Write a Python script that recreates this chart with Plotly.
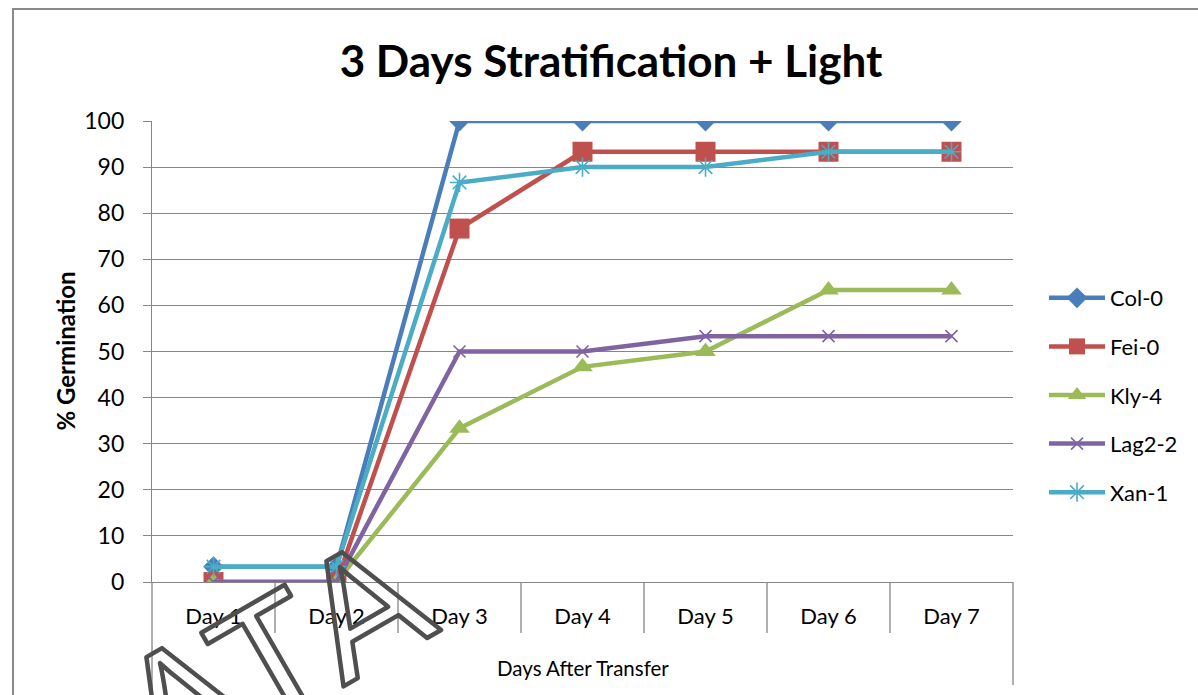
import plotly.graph_objects as go

days = ["Day 1", "Day 2", "Day 3", "Day 4", "Day 5", "Day 6", "Day 7"]
col0 = [3.33, 3.33, 100, 100, 100, 100, 100]
fei0 = [0, 0, 76.67, 93.33, 93.33, 93.33, 93.33]
kly4 = [0, 0, 33.33, 46.67, 50, 63.33, 63.33]
lag22 = [0, 0, 50, 50, 53.33, 53.33, 53.33]
xan1 = [3.33, 3.33, 86.67, 90, 90, 93.33, 93.33]
y_ticks = list(range(0, 101, 10))

W, H = 1198, 695
L, R, T, B = 152, 185, 121, 113
PW, PH = W - L - R, H - T - B

def px(X):
    return (X - L) / PW

def py(Y):
    return (H - B - Y) / PH

FONT = "Lato"
GRID = "#868686"

series = [
    ("Col-0", col0, "#4A7EBB", dict(symbol="diamond", size=16)),
    ("Fei-0", fei0, "#C0504D", dict(symbol="square", size=20)),
    ("Kly-4", kly4, "#9BBB59", dict(symbol="triangle-up", size=18)),
    ("Lag2-2", lag22, "#8064A2", dict(symbol="x-thin-open", size=12, line=dict(width=1.6, color="#8064A2"))),
    ("Xan-1", xan1, "#4BACC6", dict(symbol="asterisk-open", size=16, line=dict(width=1.6, color="#4BACC6"))),
]

fig = go.Figure()
for name, vals, color, mk in series:
    fig.add_trace(go.Scatter(
        x=days, y=vals, name=name, mode="lines+markers",
        line=dict(color=color, width=4.5),
        marker=dict(color=color, **mk),
        legendgroup=name,
    ))

shapes = []
# chart frame
shapes.append(dict(type="rect", xref="paper", yref="paper",
                   x0=px(13), x1=px(1220), y0=py(9), y1=py(730),
                   line=dict(color="#8a8a8a", width=2), layer="below"))
n = len(days)
for i in range(1, n):
    shapes.append(dict(type="line", xref="paper", yref="paper",
                       x0=i / n, x1=i / n, y0=0, y1=py(633),
                       line=dict(color=GRID, width=1.3)))
shapes.append(dict(type="line", xref="paper", yref="paper",
                   x0=0, x1=0, y0=0, y1=py(700), line=dict(color=GRID, width=1.3)))
shapes.append(dict(type="line", xref="paper", yref="paper",
                   x0=1, x1=1, y0=0, y1=py(685), line=dict(color=GRID, width=1.3)))

annotations = [
    dict(text="<b>% Germination</b>", xref="paper", yref="paper", x=px(65), y=0.5,
         xanchor="center", yanchor="middle",
         textangle=-90, showarrow=False, font=dict(family=FONT, size=24, color="black")),
    dict(text="Days After Transfer", xref="paper", yref="paper", x=0.5, y=py(668),
         xanchor="center", yanchor="middle",
         showarrow=False, font=dict(family=FONT, size=20.5, color="black")),
]
# watermark letters
for ch, X, Y in [("A", 183, 703), ("T", 272, 659), ("A", 363, 607)]:
    annotations.append(dict(text=ch, xref="paper", yref="paper", x=px(X), y=py(Y),
                            xanchor="center", yanchor="middle", textangle=-30,
                            showarrow=False,
                            font=dict(family="Liberation Sans", size=170, color="#505050")))

fig.update_layout(
    width=W, height=H,
    margin=dict(l=L, r=R, t=T, b=B, autoexpand=False),
    paper_bgcolor="white", plot_bgcolor="white",
    title=dict(text="<b>3 Days Stratification + Light</b>", xref="container", x=611 / W,
               xanchor="center", yref="container", y=(H - 62) / H, yanchor="middle",
               font=dict(family=FONT, size=44, color="black")),
    showlegend=True,
    legend=dict(x=px(1044), y=py(395), xanchor="left", yanchor="middle",
                font=dict(family=FONT, size=22, color="black"), itemwidth=56,
                tracegroupgap=17, traceorder="grouped", bgcolor="rgba(0,0,0,0)"),
    xaxis=dict(type="category", showgrid=False, showline=True, linecolor=GRID, linewidth=1.3,
               ticks="outside", ticklen=14, tickcolor="rgba(0,0,0,0)",
               tickfont=dict(family=FONT, size=22, color="black"),
               range=[-0.5, n - 0.5], fixedrange=True),
    yaxis=dict(range=[0, 100], tickvals=y_ticks, showgrid=True, gridcolor=GRID, gridwidth=1.3,
               showline=True, linecolor=GRID, linewidth=1.3, zeroline=False,
               ticks="outside", ticklen=8, tickcolor=GRID, tickwidth=1.3,
               ticklabelstandoff=14,
               tickfont=dict(family=FONT, size=23, color="black")),
    shapes=shapes,
    annotations=annotations,
)

post = """
document.body.style.margin = '0';
document.body.style.overflow = 'hidden';
var gd = document.getElementById('{plot_id}');
gd.querySelectorAll('.annotation-text').forEach(function(t){
  if (t.textContent.length === 1) {
    t.style.fill = 'none';
    t.style.stroke = '#4f4f4f';
    t.style.strokeWidth = '4.5px';
    t.style.strokeLinejoin = 'round';
  }
});
"""
fig.write_html("out.html", post_script=post, config={"displayModeBar": False})
